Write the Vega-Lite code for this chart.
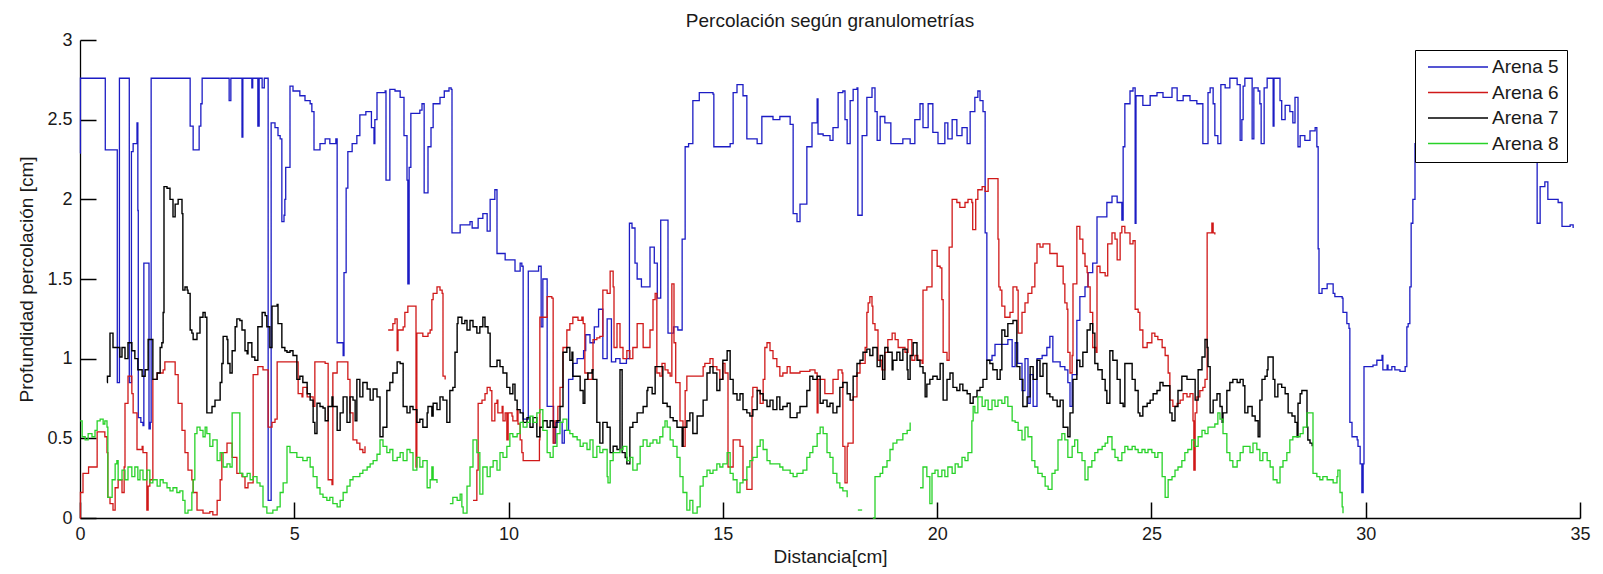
{
"$schema": "https://vega.github.io/schema/vega-lite/v6.json",
"width": 1500, "height": 478,
"autosize": {"type": "none"},
"padding": {"left": 80, "top": 40, "right": 23, "bottom": 56},
"background": "white",
"config": {
  "view": {"stroke": null},
  "font": "Liberation Sans",
  "axis": {"grid": false, "domainColor": "#000", "tickColor": "#000", "domainWidth": 1.3, "tickWidth": 1.5, "labelFontSize": 18, "labelColor": "#1a1a1a", "titleFontSize": 19, "titleFontWeight": "normal", "titleColor": "#1a1a1a", "labelFont": "Liberation Sans", "titleFont": "Liberation Sans"}
},
"title": {"text": "Percolación según granulometrías", "fontSize": 19, "fontWeight": "normal", "color": "#1a1a1a", "anchor": "middle", "offset": 0, "font": "Liberation Sans"},
"resolve": {"axis": {"x": "independent", "y": "independent"}},
"datasets": {
"arena5": [
{"x":0,"y":2.29},{"x":0.01,"y":2.76},{"x":0.58,"y":2.76},{"x":0.59,"y":2.31},{"x":0.86,"y":2.31},{"x":0.87,"y":0.85},{"x":0.91,"y":0.85},{"x":0.92,"y":2.76},{"x":1.14,"y":2.76},{"x":1.15,"y":0.85},{"x":1.19,"y":0.85},{"x":1.2,"y":2.3},{"x":1.24,"y":2.35},{"x":1.33,"y":2.48},{"x":1.35,"y":1.93},{"x":1.36,"y":0.63},{"x":1.42,"y":0.6},{"x":1.47,"y":0.58},{"x":1.49,"y":1.6},{"x":1.59,"y":1.6},{"x":1.61,"y":0.56},{"x":1.64,"y":0.6},{"x":1.66,"y":2.76},{"x":2.54,"y":2.76},{"x":2.57,"y":2.46},{"x":2.64,"y":2.31},{"x":2.75,"y":2.31},{"x":2.78,"y":2.46},{"x":2.82,"y":2.6},{"x":2.85,"y":2.76},{"x":3.45,"y":2.76},{"x":3.48,"y":2.62},{"x":3.5,"y":2.62},{"x":3.52,"y":2.76},{"x":3.77,"y":2.76},{"x":3.78,"y":2.39},{"x":3.8,"y":2.76},{"x":4.0,"y":2.76},{"x":4.01,"y":2.7},{"x":4.03,"y":2.76},{"x":4.14,"y":2.76},{"x":4.15,"y":2.46},{"x":4.18,"y":2.76},{"x":4.25,"y":2.7},{"x":4.3,"y":2.76},{"x":4.38,"y":2.76},{"x":4.39,"y":0.11},{"x":4.44,"y":0.11},{"x":4.46,"y":2.48},{"x":4.55,"y":2.45},{"x":4.62,"y":2.4},{"x":4.67,"y":2.38},{"x":4.71,"y":1.86},{"x":4.76,"y":1.9},{"x":4.78,"y":2.0},{"x":4.8,"y":2.2},{"x":4.9,"y":2.71},{"x":4.97,"y":2.68},{"x":5.13,"y":2.65},{"x":5.25,"y":2.62},{"x":5.37,"y":2.6},{"x":5.41,"y":2.55},{"x":5.46,"y":2.31},{"x":5.6,"y":2.35},{"x":5.72,"y":2.38},{"x":5.83,"y":2.35},{"x":5.97,"y":2.38},{"x":6.0,"y":1.1},{"x":6.14,"y":1.02},{"x":6.16,"y":1.54},{"x":6.21,"y":2.07},{"x":6.25,"y":2.3},{"x":6.35,"y":2.35},{"x":6.46,"y":2.4},{"x":6.53,"y":2.53},{"x":6.67,"y":2.55},{"x":6.8,"y":2.45},{"x":6.86,"y":2.35},{"x":6.88,"y":2.5},{"x":6.93,"y":2.67},{"x":7.12,"y":2.68},{"x":7.14,"y":2.12},{"x":7.21,"y":2.12},{"x":7.23,"y":2.69},{"x":7.35,"y":2.68},{"x":7.47,"y":2.64},{"x":7.56,"y":2.4},{"x":7.63,"y":2.12},{"x":7.65,"y":1.47},{"x":7.68,"y":2.2},{"x":7.72,"y":2.54},{"x":7.93,"y":2.56},{"x":7.98,"y":2.6},{"x":8.03,"y":2.04},{"x":8.1,"y":2.04},{"x":8.12,"y":2.33},{"x":8.19,"y":2.45},{"x":8.24,"y":2.6},{"x":8.4,"y":2.64},{"x":8.5,"y":2.68},{"x":8.61,"y":2.7},{"x":8.66,"y":2.69},{"x":8.68,"y":1.79},{"x":8.87,"y":1.84},{"x":9.1,"y":1.86},{"x":9.15,"y":1.82},{"x":9.29,"y":1.88},{"x":9.4,"y":1.91},{"x":9.5,"y":1.8},{"x":9.57,"y":2.0},{"x":9.68,"y":2.06},{"x":9.73,"y":1.66},{"x":9.92,"y":1.62},{"x":10.15,"y":1.55},{"x":10.27,"y":1.6},{"x":10.31,"y":1.58},{"x":10.34,"y":0.62},{"x":10.44,"y":0.62},{"x":10.46,"y":1.55},{"x":10.7,"y":1.58},{"x":10.76,"y":1.2},{"x":10.8,"y":1.5},{"x":10.85,"y":1.5},{"x":10.9,"y":0.7},{"x":11.05,"y":0.47},{"x":11.1,"y":0.6},{"x":11.2,"y":0.6},{"x":11.25,"y":0.47},{"x":11.3,"y":0.55},{"x":11.4,"y":0.87},{"x":11.5,"y":0.97},{"x":11.6,"y":1.0},{"x":11.75,"y":1.05},{"x":11.8,"y":1.15},{"x":11.9,"y":1.1},{"x":12.0,"y":1.2},{"x":12.1,"y":1.31},{"x":12.15,"y":1.31},{"x":12.2,"y":1.0},{"x":12.3,"y":1.25},{"x":12.4,"y":0.98},{"x":12.5,"y":1.0},{"x":12.6,"y":0.97},{"x":12.75,"y":1.0},{"x":12.8,"y":1.0},{"x":12.82,"y":1.85},{"x":12.88,"y":1.82},{"x":12.95,"y":1.6},{"x":13.0,"y":1.5},{"x":13.1,"y":1.45},{"x":13.25,"y":1.45},{"x":13.3,"y":1.7},{"x":13.4,"y":1.6},{"x":13.47,"y":1.38},{"x":13.55,"y":1.87},{"x":13.7,"y":1.87},{"x":13.72,"y":1.16},{"x":13.85,"y":1.2},{"x":13.95,"y":1.18},{"x":14.05,"y":1.75},{"x":14.12,"y":2.33},{"x":14.2,"y":2.35},{"x":14.3,"y":2.62},{"x":14.45,"y":2.67},{"x":14.77,"y":2.66},{"x":14.79,"y":2.33},{"x":15.17,"y":2.35},{"x":15.24,"y":2.67},{"x":15.33,"y":2.72},{"x":15.47,"y":2.65},{"x":15.56,"y":2.38},{"x":15.8,"y":2.35},{"x":15.91,"y":2.52},{"x":16.17,"y":2.5},{"x":16.33,"y":2.52},{"x":16.57,"y":2.47},{"x":16.64,"y":1.91},{"x":16.73,"y":1.86},{"x":16.8,"y":1.97},{"x":16.92,"y":1.97},{"x":16.96,"y":2.33},{"x":17.08,"y":2.48},{"x":17.2,"y":2.63},{"x":17.22,"y":2.41},{"x":17.34,"y":2.4},{"x":17.5,"y":2.37},{"x":17.57,"y":2.45},{"x":17.69,"y":2.67},{"x":17.8,"y":2.68},{"x":17.85,"y":2.5},{"x":17.9,"y":2.35},{"x":17.97,"y":2.62},{"x":18.04,"y":2.69},{"x":18.13,"y":2.7},{"x":18.15,"y":1.9},{"x":18.25,"y":2.4},{"x":18.36,"y":2.64},{"x":18.48,"y":2.7},{"x":18.55,"y":2.55},{"x":18.6,"y":2.37},{"x":18.67,"y":2.52},{"x":18.78,"y":2.48},{"x":18.92,"y":2.35},{"x":19.06,"y":2.35},{"x":19.2,"y":2.38},{"x":19.37,"y":2.35},{"x":19.48,"y":2.5},{"x":19.6,"y":2.6},{"x":19.67,"y":2.45},{"x":19.79,"y":2.6},{"x":19.9,"y":2.42},{"x":20.02,"y":2.35},{"x":20.18,"y":2.48},{"x":20.25,"y":2.38},{"x":20.35,"y":2.5},{"x":20.46,"y":2.4},{"x":20.58,"y":2.45},{"x":20.7,"y":2.35},{"x":20.77,"y":2.55},{"x":20.88,"y":2.64},{"x":20.95,"y":2.68},{"x":21.0,"y":2.62},{"x":21.07,"y":2.55},{"x":21.12,"y":1.79},{"x":21.16,"y":0.99},{"x":21.28,"y":1.02},{"x":21.35,"y":1.09},{"x":21.58,"y":1.09},{"x":21.65,"y":1.12},{"x":21.75,"y":0.95},{"x":21.82,"y":1.1},{"x":21.88,"y":0.97},{"x":21.98,"y":0.8},{"x":22.05,"y":1.0},{"x":22.12,"y":0.72},{"x":22.17,"y":0.9},{"x":22.24,"y":0.7},{"x":22.33,"y":1.0},{"x":22.45,"y":1.02},{"x":22.56,"y":1.07},{"x":22.63,"y":1.14},{"x":22.7,"y":0.98},{"x":22.87,"y":0.95},{"x":22.98,"y":0.93},{"x":23.05,"y":0.85},{"x":23.1,"y":0.7},{"x":23.15,"y":0.9},{"x":23.26,"y":1.24},{"x":23.33,"y":1.39},{"x":23.45,"y":1.45},{"x":23.52,"y":1.54},{"x":23.63,"y":1.6},{"x":23.73,"y":1.89},{"x":23.96,"y":1.98},{"x":24.08,"y":2.02},{"x":24.2,"y":1.98},{"x":24.31,"y":1.87},{"x":24.34,"y":2.33},{"x":24.38,"y":2.6},{"x":24.5,"y":2.68},{"x":24.57,"y":2.7},{"x":24.62,"y":1.85},{"x":24.64,"y":2.65},{"x":24.8,"y":2.59},{"x":24.97,"y":2.65},{"x":25.13,"y":2.67},{"x":25.27,"y":2.64},{"x":25.48,"y":2.7},{"x":25.6,"y":2.62},{"x":25.74,"y":2.65},{"x":25.9,"y":2.62},{"x":26.06,"y":2.6},{"x":26.18,"y":2.6},{"x":26.2,"y":2.35},{"x":26.3,"y":2.35},{"x":26.32,"y":2.67},{"x":26.37,"y":2.7},{"x":26.44,"y":2.6},{"x":26.48,"y":2.4},{"x":26.55,"y":2.35},{"x":26.62,"y":2.72},{"x":26.72,"y":2.7},{"x":26.83,"y":2.76},{"x":27.0,"y":2.72},{"x":27.07,"y":2.37},{"x":27.11,"y":2.5},{"x":27.14,"y":2.71},{"x":27.18,"y":2.76},{"x":27.3,"y":2.76},{"x":27.35,"y":2.38},{"x":27.39,"y":2.7},{"x":27.49,"y":2.68},{"x":27.53,"y":2.6},{"x":27.56,"y":2.35},{"x":27.63,"y":2.7},{"x":27.7,"y":2.76},{"x":27.81,"y":2.76},{"x":27.84,"y":2.46},{"x":27.86,"y":2.76},{"x":27.98,"y":2.76},{"x":28.0,"y":2.62},{"x":28.04,"y":2.5},{"x":28.12,"y":2.59},{"x":28.23,"y":2.55},{"x":28.3,"y":2.48},{"x":28.35,"y":2.64},{"x":28.4,"y":2.64},{"x":28.42,"y":2.33},{"x":28.47,"y":2.4},{"x":28.58,"y":2.37},{"x":28.7,"y":2.43},{"x":28.82,"y":2.45},{"x":28.86,"y":2.33},{"x":28.89,"y":1.69},{"x":28.91,"y":1.41},{"x":28.98,"y":1.44},{"x":29.1,"y":1.47},{"x":29.24,"y":1.41},{"x":29.28,"y":1.39},{"x":29.45,"y":1.38},{"x":29.47,"y":1.29},{"x":29.56,"y":1.22},{"x":29.61,"y":1.19},{"x":29.63,"y":0.6},{"x":29.68,"y":0.51},{"x":29.8,"y":0.49},{"x":29.82,"y":0.45},{"x":29.87,"y":0.34},{"x":29.91,"y":0.16},{"x":29.94,"y":0.34},{"x":29.96,"y":0.95},{"x":30.03,"y":0.95},{"x":30.17,"y":0.96},{"x":30.26,"y":0.99},{"x":30.38,"y":1.02},{"x":30.4,"y":0.93},{"x":30.5,"y":0.96},{"x":30.52,"y":0.93},{"x":30.61,"y":0.95},{"x":30.68,"y":0.93},{"x":30.8,"y":0.92},{"x":30.92,"y":0.95},{"x":30.96,"y":1.2},{"x":30.99,"y":1.22},{"x":31.03,"y":1.45},{"x":31.06,"y":1.85},{"x":31.1,"y":2.0},{"x":31.15,"y":2.35},{"x":31.2,"y":2.6},{"x":32.0,"y":2.7},{"x":33.0,"y":2.6},{"x":33.9,"y":2.5},{"x":33.97,"y":2.3},{"x":34.0,"y":1.85},{"x":34.04,"y":1.85},{"x":34.07,"y":2.08},{"x":34.18,"y":2.11},{"x":34.25,"y":2.0},{"x":34.37,"y":2.0},{"x":34.49,"y":1.98},{"x":34.55,"y":1.98},{"x":34.58,"y":1.83},{"x":34.77,"y":1.84},{"x":34.84,"y":1.82}
],
"arena6": [
{"x":0,"y":0,"s":1},{"x":0.01,"y":0.16,"s":1},{"x":0.07,"y":0.28,"s":1},{"x":0.19,"y":0.28,"s":1},{"x":0.2,"y":0.32,"s":1},{"x":0.4,"y":0.54,"s":1},{"x":0.47,"y":0.54,"s":1},{"x":0.58,"y":0.51,"s":1},{"x":0.63,"y":0.41,"s":1},{"x":0.65,"y":0.13,"s":1},{"x":0.7,"y":0.09,"s":1},{"x":0.77,"y":0.05,"s":1},{"x":0.82,"y":0.19,"s":1},{"x":0.89,"y":0.24,"s":1},{"x":0.98,"y":0.16,"s":1},{"x":1.03,"y":0.32,"s":1},{"x":1.05,"y":0.72,"s":1},{"x":1.12,"y":0.89,"s":1},{"x":1.17,"y":0.89,"s":1},{"x":1.21,"y":0.78,"s":1},{"x":1.24,"y":0.66,"s":1},{"x":1.33,"y":0.43,"s":1},{"x":1.4,"y":0.43,"s":1},{"x":1.45,"y":0.45,"s":1},{"x":1.47,"y":0.41,"s":1},{"x":1.56,"y":0.05,"s":1},{"x":1.59,"y":0.2,"s":1},{"x":1.63,"y":0.24,"s":1},{"x":1.68,"y":0.24,"s":1},{"x":1.7,"y":0.87,"s":1},{"x":1.8,"y":0.91,"s":1},{"x":1.94,"y":0.93,"s":1},{"x":1.98,"y":0.98,"s":1},{"x":2.17,"y":0.98,"s":1},{"x":2.22,"y":0.9,"s":1},{"x":2.29,"y":0.72,"s":1},{"x":2.38,"y":0.55,"s":1},{"x":2.45,"y":0.41,"s":1},{"x":2.52,"y":0.3,"s":1},{"x":2.61,"y":0.24,"s":1},{"x":2.64,"y":0.16,"s":1},{"x":2.73,"y":0.05,"s":1},{"x":2.87,"y":0.03,"s":1},{"x":3.03,"y":0.04,"s":1},{"x":3.1,"y":0.02,"s":1},{"x":3.2,"y":0.11,"s":1},{"x":3.27,"y":0.24,"s":1},{"x":3.31,"y":0.41,"s":1},{"x":3.43,"y":0.47,"s":1},{"x":3.55,"y":0.38,"s":1},{"x":3.66,"y":0.28,"s":1},{"x":3.78,"y":0.26,"s":1},{"x":3.85,"y":0.19,"s":1},{"x":3.92,"y":0.22,"s":1},{"x":4.04,"y":0.9,"s":1},{"x":4.15,"y":0.95,"s":1},{"x":4.27,"y":0.93,"s":1},{"x":4.36,"y":0.93,"s":1},{"x":4.39,"y":0.57,"s":1},{"x":4.48,"y":0.6,"s":1},{"x":4.55,"y":0.62,"s":1},{"x":4.6,"y":0.98,"s":1},{"x":5.02,"y":0.98,"s":1},{"x":5.09,"y":0.78,"s":1},{"x":5.18,"y":0.76,"s":1},{"x":5.2,"y":0.82,"s":1},{"x":5.3,"y":0.76,"s":1},{"x":5.44,"y":0.7,"s":1},{"x":5.48,"y":0.98,"s":1},{"x":5.72,"y":0.97,"s":1},{"x":5.79,"y":0.24,"s":1},{"x":5.88,"y":0.21,"s":1},{"x":5.9,"y":0.91,"s":1},{"x":6.0,"y":0.98,"s":1},{"x":6.23,"y":0.98,"s":1},{"x":6.25,"y":0.87,"s":1},{"x":6.3,"y":0.66,"s":1},{"x":6.37,"y":0.49,"s":1},{"x":6.46,"y":0.47,"s":1},{"x":6.53,"y":0.43,"s":1},{"x":6.6,"y":0.41,"s":1},{"x":6.65,"y":0.45,"s":1},
{"x":7.19,"y":1.18,"s":2},{"x":7.3,"y":1.22,"s":2},{"x":7.35,"y":1.25,"s":2},{"x":7.4,"y":1.05,"s":2},{"x":7.42,"y":1.18,"s":2},{"x":7.54,"y":1.2,"s":2},{"x":7.58,"y":1.29,"s":2},{"x":7.65,"y":1.33,"s":2},{"x":7.82,"y":1.33,"s":2},{"x":7.84,"y":0.32,"s":2},{"x":7.86,"y":1.16,"s":2},{"x":8.0,"y":1.14,"s":2},{"x":8.12,"y":1.16,"s":2},{"x":8.17,"y":1.18,"s":2},{"x":8.21,"y":1.37,"s":2},{"x":8.24,"y":1.41,"s":2},{"x":8.33,"y":1.45,"s":2},{"x":8.4,"y":1.43,"s":2},{"x":8.45,"y":1.41,"s":2},{"x":8.47,"y":0.89,"s":2},{"x":8.52,"y":0.87,"s":2},
{"x":9.17,"y":0.11,"s":3},{"x":9.26,"y":0.3,"s":3},{"x":9.29,"y":0.72,"s":3},{"x":9.38,"y":0.74,"s":3},{"x":9.45,"y":0.78,"s":3},{"x":9.5,"y":0.82,"s":3},{"x":9.57,"y":0.8,"s":3},{"x":9.61,"y":0.61,"s":3},{"x":9.68,"y":0.72,"s":3},{"x":9.73,"y":0.74,"s":3},{"x":9.75,"y":0.66,"s":3},{"x":9.85,"y":0.7,"s":3},{"x":9.87,"y":0.61,"s":3},{"x":9.92,"y":0.66,"s":3},{"x":9.96,"y":0.49,"s":3},{"x":9.99,"y":0.66,"s":3},{"x":10.08,"y":0.64,"s":3},{"x":10.1,"y":0.61,"s":3},{"x":10.2,"y":0.68,"s":3},{"x":10.22,"y":0.59,"s":3},{"x":10.27,"y":0.49,"s":3},{"x":10.31,"y":0.41,"s":3},{"x":10.34,"y":0.36,"s":3},{"x":10.72,"y":0.49,"s":3},{"x":10.73,"y":1.26,"s":3},{"x":10.8,"y":1.26,"s":3},{"x":10.9,"y":1.39,"s":3},{"x":11.01,"y":1.38,"s":3},{"x":11.04,"y":0.47,"s":3},{"x":11.08,"y":0.61,"s":3},{"x":11.15,"y":0.7,"s":3},{"x":11.2,"y":0.82,"s":3},{"x":11.27,"y":1.07,"s":3},{"x":11.36,"y":1.18,"s":3},{"x":11.43,"y":1.22,"s":3},{"x":11.5,"y":1.26,"s":3},{"x":11.62,"y":1.24,"s":3},{"x":11.71,"y":1.26,"s":3},{"x":11.74,"y":1.22,"s":3},{"x":11.78,"y":0.91,"s":3},{"x":11.85,"y":0.87,"s":3},{"x":11.95,"y":0.93,"s":3},{"x":11.97,"y":1.12,"s":3},{"x":12.06,"y":1.13,"s":3},{"x":12.13,"y":1.14,"s":3},{"x":12.2,"y":1.43,"s":3},{"x":12.3,"y":1.41,"s":3},{"x":12.37,"y":1.55,"s":3},{"x":12.44,"y":1.45,"s":3},{"x":12.46,"y":1.07,"s":3},{"x":12.53,"y":1.22,"s":3},{"x":12.6,"y":1.07,"s":3},{"x":12.67,"y":1.0,"s":3},{"x":12.76,"y":1.05,"s":3},{"x":12.83,"y":1.0,"s":3},{"x":12.9,"y":1.07,"s":3},{"x":13.0,"y":1.22,"s":3},{"x":13.07,"y":1.22,"s":3},{"x":13.14,"y":1.07,"s":3},{"x":13.23,"y":1.07,"s":3},{"x":13.3,"y":1.18,"s":3},{"x":13.37,"y":1.37,"s":3},{"x":13.42,"y":1.41,"s":3},{"x":13.46,"y":0.91,"s":3},{"x":13.53,"y":0.89,"s":3},{"x":13.58,"y":0.97,"s":3},{"x":13.65,"y":0.93,"s":3},{"x":13.72,"y":0.91,"s":3},{"x":13.77,"y":0.89,"s":3},{"x":13.81,"y":1.47,"s":3},{"x":13.86,"y":1.1,"s":3},{"x":13.9,"y":0.85,"s":3},{"x":14.0,"y":0.61,"s":3},{"x":14.07,"y":0.45,"s":3},{"x":14.12,"y":0.8,"s":3},{"x":14.16,"y":0.89,"s":3},{"x":14.54,"y":0.95,"s":3},{"x":14.58,"y":0.97,"s":3},{"x":14.7,"y":1.0,"s":3},{"x":14.77,"y":0.95,"s":3},{"x":14.86,"y":0.93,"s":3},{"x":14.93,"y":0.87,"s":3},{"x":15.0,"y":0.97,"s":3},{"x":15.05,"y":0.91,"s":3},{"x":15.12,"y":0.32,"s":3},{"x":15.17,"y":0.32,"s":3},{"x":15.24,"y":0.49,"s":3},{"x":15.33,"y":0.49,"s":3},{"x":15.4,"y":0.45,"s":3},{"x":15.47,"y":0.24,"s":3},{"x":15.56,"y":0.18,"s":3},{"x":15.63,"y":0.18,"s":3},{"x":15.68,"y":0.76,"s":3},{"x":15.7,"y":0.82,"s":3},{"x":15.8,"y":0.8,"s":3},{"x":15.87,"y":0.72,"s":3},{"x":15.94,"y":0.87,"s":3},{"x":15.98,"y":1.07,"s":3},{"x":16.03,"y":1.1,"s":3},{"x":16.1,"y":1.05,"s":3},{"x":16.17,"y":1.0,"s":3},{"x":16.26,"y":0.95,"s":3},{"x":16.33,"y":0.89,"s":3},{"x":16.4,"y":0.91,"s":3},{"x":16.5,"y":0.95,"s":3},{"x":16.57,"y":0.91,"s":3},{"x":16.8,"y":0.92,"s":3},{"x":17.03,"y":0.93,"s":3},{"x":17.15,"y":0.91,"s":3},{"x":17.2,"y":0.66,"s":3},{"x":17.22,"y":0.87,"s":3},{"x":17.38,"y":0.78,"s":3},{"x":17.57,"y":0.87,"s":3},{"x":17.69,"y":0.93,"s":3},{"x":17.78,"y":0.91,"s":3},{"x":17.8,"y":0.45,"s":3},{"x":17.85,"y":0.22,"s":3},{"x":17.9,"y":0.45,"s":3},{"x":17.92,"y":0.47,"s":3},{"x":18.01,"y":0.47,"s":3},{"x":18.04,"y":0.76,"s":3},{"x":18.13,"y":0.91,"s":3},{"x":18.2,"y":0.97,"s":3},{"x":18.32,"y":1.07,"s":3},{"x":18.36,"y":1.29,"s":3},{"x":18.39,"y":1.35,"s":3},{"x":18.43,"y":1.39,"s":3},{"x":18.48,"y":1.33,"s":3},{"x":18.5,"y":1.22,"s":3},{"x":18.55,"y":1.18,"s":3},{"x":18.62,"y":0.99,"s":3},{"x":18.71,"y":0.93,"s":3},{"x":18.78,"y":1.04,"s":3},{"x":18.85,"y":1.12,"s":3},{"x":18.95,"y":1.16,"s":3},{"x":19.02,"y":1.12,"s":3},{"x":19.09,"y":1.07,"s":3},{"x":19.18,"y":1.07,"s":3},{"x":19.25,"y":1.04,"s":3},{"x":19.32,"y":1.12,"s":3},{"x":19.41,"y":0.99,"s":3},{"x":19.48,"y":1.02,"s":3},{"x":19.55,"y":0.99,"s":3},{"x":19.65,"y":0.97,"s":3},{"x":19.67,"y":1.43,"s":3},{"x":19.76,"y":1.45,"s":3},{"x":19.88,"y":1.68,"s":3},{"x":19.9,"y":1.68,"s":3},{"x":20.0,"y":1.58,"s":3},{"x":20.07,"y":1.57,"s":3},{"x":20.11,"y":1.37,"s":3},{"x":20.14,"y":1.04,"s":3},{"x":20.23,"y":0.99,"s":3},{"x":20.28,"y":1.7,"s":3},{"x":20.35,"y":2.0,"s":3},{"x":20.46,"y":1.98,"s":3},{"x":20.53,"y":1.95,"s":3},{"x":20.65,"y":1.98,"s":3},{"x":20.72,"y":2.0,"s":3},{"x":20.81,"y":1.98,"s":3},{"x":20.83,"y":1.81,"s":3},{"x":20.88,"y":1.81,"s":3},{"x":20.9,"y":2.0,"s":3},{"x":20.95,"y":2.06,"s":3},{"x":21.05,"y":2.08,"s":3},{"x":21.12,"y":2.05,"s":3},{"x":21.19,"y":2.13,"s":3},{"x":21.4,"y":2.13,"s":3},{"x":21.42,"y":1.75,"s":3},{"x":21.44,"y":1.45,"s":3},{"x":21.47,"y":1.43,"s":3},{"x":21.51,"y":1.33,"s":3},{"x":21.58,"y":1.26,"s":3},{"x":21.7,"y":1.29,"s":3},{"x":21.77,"y":1.45,"s":3},{"x":21.86,"y":1.43,"s":3},{"x":21.89,"y":1.16,"s":3},{"x":21.98,"y":1.29,"s":3},{"x":22.05,"y":1.35,"s":3},{"x":22.12,"y":1.41,"s":3},{"x":22.21,"y":1.45,"s":3},{"x":22.28,"y":1.6,"s":3},{"x":22.33,"y":1.72,"s":3},{"x":22.4,"y":1.7,"s":3},{"x":22.47,"y":1.72,"s":3},{"x":22.63,"y":1.66,"s":3},{"x":22.7,"y":1.66,"s":3},{"x":22.8,"y":1.58,"s":3},{"x":22.91,"y":1.58,"s":3},{"x":22.94,"y":1.47,"s":3},{"x":22.98,"y":1.35,"s":3},{"x":23.03,"y":1.31,"s":3},{"x":23.05,"y":1.04,"s":3},{"x":23.1,"y":0.91,"s":3},{"x":23.15,"y":1.02,"s":3},{"x":23.17,"y":1.47,"s":3},{"x":23.26,"y":1.83,"s":3},{"x":23.33,"y":1.75,"s":3},{"x":23.4,"y":1.66,"s":3},{"x":23.45,"y":1.58,"s":3},{"x":23.5,"y":1.54,"s":3},{"x":23.52,"y":1.45,"s":3},{"x":23.57,"y":1.29,"s":3},{"x":23.63,"y":1.07,"s":3},{"x":23.71,"y":1.04,"s":3},{"x":23.73,"y":1.58,"s":3},{"x":23.8,"y":1.54,"s":3},{"x":23.92,"y":1.52,"s":3},{"x":23.98,"y":1.72,"s":3},{"x":24.08,"y":1.79,"s":3},{"x":24.15,"y":1.75,"s":3},{"x":24.2,"y":1.62,"s":3},{"x":24.27,"y":1.79,"s":3},{"x":24.31,"y":1.83,"s":3},{"x":24.38,"y":1.79,"s":3},{"x":24.5,"y":1.72,"s":3},{"x":24.57,"y":1.74,"s":3},{"x":24.62,"y":1.31,"s":3},{"x":24.69,"y":1.29,"s":3},{"x":24.73,"y":1.18,"s":3},{"x":24.8,"y":1.07,"s":3},{"x":24.9,"y":1.1,"s":3},{"x":25.01,"y":1.16,"s":3},{"x":25.08,"y":1.14,"s":3},{"x":25.15,"y":1.12,"s":3},{"x":25.25,"y":1.07,"s":3},{"x":25.32,"y":1.02,"s":3},{"x":25.39,"y":0.91,"s":3},{"x":25.43,"y":0.74,"s":3},{"x":25.5,"y":0.7,"s":3},{"x":25.6,"y":0.72,"s":3},{"x":25.67,"y":0.74,"s":3},{"x":25.74,"y":0.78,"s":3},{"x":25.83,"y":0.76,"s":3},{"x":25.9,"y":0.78,"s":3},{"x":25.97,"y":0.61,"s":3},{"x":25.99,"y":0.3,"s":3},{"x":26.02,"y":0.66,"s":3},{"x":26.06,"y":0.76,"s":3},{"x":26.13,"y":0.8,"s":3},{"x":26.2,"y":0.82,"s":3},{"x":26.25,"y":0.87,"s":3},{"x":26.3,"y":1.79,"s":3},{"x":26.41,"y":1.85,"s":3},{"x":26.44,"y":1.79,"s":3},{"x":26.48,"y":1.78,"s":3}
],
"arena7": [
{"x":0.63,"y":0.85},{"x":0.64,"y":0.89},{"x":0.7,"y":1.16},{"x":0.77,"y":1.07},{"x":0.86,"y":1.07},{"x":0.93,"y":1.01},{"x":0.98,"y":1.07},{"x":1.05,"y":1.0},{"x":1.12,"y":1.1},{"x":1.21,"y":1.05},{"x":1.28,"y":1.0},{"x":1.35,"y":0.93},{"x":1.45,"y":0.89},{"x":1.52,"y":0.93},{"x":1.59,"y":1.12},{"x":1.68,"y":1.12},{"x":1.7,"y":0.87},{"x":1.8,"y":0.91},{"x":1.87,"y":1.07},{"x":1.91,"y":1.1},{"x":1.94,"y":1.29},{"x":1.96,"y":2.08},{"x":2.03,"y":2.07},{"x":2.1,"y":2.0},{"x":2.17,"y":1.89},{"x":2.22,"y":1.97},{"x":2.29,"y":2.0},{"x":2.38,"y":1.91},{"x":2.4,"y":1.43},{"x":2.45,"y":1.45},{"x":2.5,"y":1.43},{"x":2.52,"y":1.41},{"x":2.57,"y":1.18},{"x":2.61,"y":1.16},{"x":2.64,"y":1.12},{"x":2.73,"y":1.16},{"x":2.8,"y":1.26},{"x":2.87,"y":1.29},{"x":2.92,"y":1.26},{"x":2.96,"y":0.66},{"x":3.03,"y":0.66},{"x":3.08,"y":0.7},{"x":3.15,"y":0.74},{"x":3.22,"y":0.74},{"x":3.27,"y":0.85},{"x":3.31,"y":0.97},{"x":3.34,"y":1.14},{"x":3.43,"y":1.12},{"x":3.45,"y":0.97},{"x":3.5,"y":0.91},{"x":3.55,"y":1.05},{"x":3.62,"y":1.2},{"x":3.66,"y":1.25},{"x":3.73,"y":1.24},{"x":3.78,"y":1.18},{"x":3.85,"y":1.05},{"x":3.9,"y":1.03},{"x":3.92,"y":1.1},{"x":4.01,"y":1.01},{"x":4.08,"y":0.99},{"x":4.15,"y":1.2},{"x":4.25,"y":1.29},{"x":4.32,"y":1.27},{"x":4.36,"y":1.2},{"x":4.43,"y":1.07},{"x":4.48,"y":1.33},{"x":4.6,"y":1.34},{"x":4.62,"y":1.22},{"x":4.71,"y":1.07},{"x":4.78,"y":1.05},{"x":4.83,"y":1.04},{"x":4.9,"y":1.05},{"x":4.97,"y":1.02},{"x":5.06,"y":0.87},{"x":5.13,"y":0.89},{"x":5.2,"y":0.85},{"x":5.3,"y":0.78},{"x":5.37,"y":0.74},{"x":5.44,"y":0.6},{"x":5.48,"y":0.53},{"x":5.53,"y":0.72},{"x":5.6,"y":0.7},{"x":5.67,"y":0.69},{"x":5.72,"y":0.61},{"x":5.79,"y":0.7},{"x":5.88,"y":0.76},{"x":5.9,"y":0.7},{"x":6.0,"y":0.55},{"x":6.07,"y":0.66},{"x":6.14,"y":0.76},{"x":6.23,"y":0.6},{"x":6.3,"y":0.76},{"x":6.37,"y":0.74},{"x":6.42,"y":0.61},{"x":6.46,"y":0.87},{"x":6.53,"y":0.76},{"x":6.6,"y":0.85},{"x":6.7,"y":0.81},{"x":6.77,"y":0.74},{"x":6.84,"y":0.81},{"x":6.93,"y":0.76},{"x":7.0,"y":0.51},{"x":7.07,"y":0.57},{"x":7.16,"y":0.8},{"x":7.23,"y":0.85},{"x":7.3,"y":0.91},{"x":7.4,"y":0.98},{"x":7.47,"y":0.97},{"x":7.54,"y":0.7},{"x":7.63,"y":0.66},{"x":7.7,"y":0.7},{"x":7.77,"y":0.68},{"x":7.86,"y":0.6},{"x":7.93,"y":0.62},{"x":8.0,"y":0.57},{"x":8.1,"y":0.66},{"x":8.12,"y":0.7},{"x":8.21,"y":0.64},{"x":8.24,"y":0.72},{"x":8.33,"y":0.68},{"x":8.4,"y":0.76},{"x":8.47,"y":0.74},{"x":8.56,"y":0.6},{"x":8.63,"y":0.8},{"x":8.7,"y":0.82},{"x":8.75,"y":1.04},{"x":8.8,"y":1.22},{"x":8.82,"y":1.26},{"x":8.91,"y":1.22},{"x":8.98,"y":1.24},{"x":9.03,"y":1.18},{"x":9.1,"y":1.24},{"x":9.17,"y":1.2},{"x":9.26,"y":1.16},{"x":9.33,"y":1.2},{"x":9.4,"y":1.26},{"x":9.45,"y":1.2},{"x":9.52,"y":1.16},{"x":9.57,"y":0.95},{"x":9.64,"y":0.95},{"x":9.73,"y":0.99},{"x":9.8,"y":0.95},{"x":9.87,"y":0.91},{"x":9.96,"y":0.82},{"x":10.03,"y":0.78},{"x":10.1,"y":0.84},{"x":10.15,"y":0.74},{"x":10.2,"y":0.68},{"x":10.27,"y":0.66},{"x":10.34,"y":0.6},{"x":10.43,"y":0.63},{"x":10.5,"y":0.57},{"x":10.57,"y":0.63},{"x":10.66,"y":0.51},{"x":10.73,"y":0.57},{"x":10.8,"y":0.61},{"x":10.9,"y":0.57},{"x":10.97,"y":0.61},{"x":11.04,"y":0.57},{"x":11.13,"y":0.61},{"x":11.2,"y":0.7},{"x":11.27,"y":1.04},{"x":11.36,"y":1.07},{"x":11.43,"y":0.99},{"x":11.48,"y":1.04},{"x":11.5,"y":0.89},{"x":11.6,"y":0.89},{"x":11.67,"y":0.8},{"x":11.74,"y":0.72},{"x":11.78,"y":0.87},{"x":11.85,"y":0.91},{"x":11.95,"y":0.93},{"x":11.97,"y":0.87},{"x":12.06,"y":0.6},{"x":12.13,"y":0.47},{"x":12.2,"y":0.6},{"x":12.3,"y":0.57},{"x":12.37,"y":0.41},{"x":12.44,"y":0.45},{"x":12.53,"y":0.43},{"x":12.6,"y":0.93},{"x":12.65,"y":0.41},{"x":12.72,"y":0.38},{"x":12.76,"y":0.34},{"x":12.83,"y":0.57},{"x":12.9,"y":0.6},{"x":13.0,"y":0.66},{"x":13.07,"y":0.66},{"x":13.14,"y":0.7},{"x":13.23,"y":0.8},{"x":13.25,"y":0.82},{"x":13.35,"y":0.78},{"x":13.42,"y":0.95},{"x":13.58,"y":0.95},{"x":13.6,"y":0.72},{"x":13.7,"y":0.7},{"x":13.77,"y":0.63},{"x":13.84,"y":0.61},{"x":13.93,"y":0.57},{"x":14.0,"y":0.57},{"x":14.05,"y":0.45},{"x":14.07,"y":0.57},{"x":14.16,"y":0.61},{"x":14.23,"y":0.66},{"x":14.3,"y":0.53},{"x":14.4,"y":0.64},{"x":14.47,"y":0.64},{"x":14.54,"y":0.74},{"x":14.63,"y":0.91},{"x":14.7,"y":0.95},{"x":14.77,"y":0.91},{"x":14.86,"y":0.8},{"x":14.93,"y":0.87},{"x":15.0,"y":0.99},{"x":15.1,"y":1.05},{"x":15.17,"y":0.87},{"x":15.24,"y":0.78},{"x":15.33,"y":0.74},{"x":15.4,"y":0.78},{"x":15.47,"y":0.68},{"x":15.56,"y":0.66},{"x":15.63,"y":0.64},{"x":15.7,"y":0.68},{"x":15.8,"y":0.8},{"x":15.87,"y":0.78},{"x":15.94,"y":0.74},{"x":16.03,"y":0.7},{"x":16.1,"y":0.74},{"x":16.17,"y":0.68},{"x":16.26,"y":0.76},{"x":16.33,"y":0.68},{"x":16.4,"y":0.7},{"x":16.5,"y":0.72},{"x":16.57,"y":0.63},{"x":16.64,"y":0.63},{"x":16.73,"y":0.66},{"x":16.8,"y":0.7},{"x":16.87,"y":0.7},{"x":16.96,"y":0.8},{"x":17.03,"y":0.89},{"x":17.1,"y":0.87},{"x":17.2,"y":0.89},{"x":17.27,"y":0.72},{"x":17.34,"y":0.74},{"x":17.43,"y":0.7},{"x":17.5,"y":0.72},{"x":17.57,"y":0.66},{"x":17.66,"y":0.7},{"x":17.73,"y":0.82},{"x":17.8,"y":0.85},{"x":17.9,"y":0.78},{"x":17.97,"y":0.74},{"x":18.04,"y":0.89},{"x":18.13,"y":0.97},{"x":18.2,"y":0.99},{"x":18.27,"y":1.04},{"x":18.36,"y":1.06},{"x":18.43,"y":1.02},{"x":18.5,"y":1.07},{"x":18.6,"y":0.95},{"x":18.67,"y":1.02},{"x":18.73,"y":0.87},{"x":18.78,"y":1.07},{"x":18.85,"y":1.04},{"x":18.95,"y":0.93},{"x":18.97,"y":0.99},{"x":19.06,"y":1.04},{"x":19.13,"y":0.99},{"x":19.2,"y":1.06},{"x":19.3,"y":0.93},{"x":19.32,"y":0.87},{"x":19.37,"y":1.02},{"x":19.44,"y":1.1},{"x":19.53,"y":0.99},{"x":19.6,"y":0.95},{"x":19.67,"y":0.91},{"x":19.72,"y":0.76},{"x":19.76,"y":0.84},{"x":19.83,"y":0.87},{"x":19.9,"y":0.89},{"x":20.0,"y":0.87},{"x":20.07,"y":0.97},{"x":20.14,"y":0.74},{"x":20.23,"y":0.87},{"x":20.3,"y":0.91},{"x":20.37,"y":0.82},{"x":20.46,"y":0.8},{"x":20.53,"y":0.84},{"x":20.6,"y":0.8},{"x":20.7,"y":0.78},{"x":20.77,"y":0.72},{"x":20.84,"y":0.76},{"x":20.93,"y":0.8},{"x":21.0,"y":0.82},{"x":21.07,"y":0.87},{"x":21.16,"y":0.99},{"x":21.23,"y":0.97},{"x":21.3,"y":0.93},{"x":21.4,"y":0.87},{"x":21.47,"y":0.93},{"x":21.51,"y":1.18},{"x":21.58,"y":1.14},{"x":21.65,"y":1.22},{"x":21.75,"y":1.22},{"x":21.77,"y":1.24},{"x":21.86,"y":0.95},{"x":21.93,"y":0.87},{"x":22.0,"y":0.7},{"x":22.1,"y":0.76},{"x":22.17,"y":0.95},{"x":22.24,"y":0.87},{"x":22.33,"y":0.99},{"x":22.4,"y":0.89},{"x":22.47,"y":0.97},{"x":22.56,"y":0.78},{"x":22.63,"y":0.76},{"x":22.7,"y":0.74},{"x":22.8,"y":0.7},{"x":22.87,"y":0.74},{"x":22.94,"y":0.57},{"x":23.03,"y":0.57},{"x":23.05,"y":0.51},{"x":23.1,"y":0.66},{"x":23.17,"y":0.87},{"x":23.26,"y":0.99},{"x":23.33,"y":0.95},{"x":23.4,"y":1.04},{"x":23.5,"y":1.18},{"x":23.57,"y":1.22},{"x":23.63,"y":1.16},{"x":23.68,"y":0.97},{"x":23.75,"y":0.93},{"x":23.85,"y":0.87},{"x":23.92,"y":0.8},{"x":23.96,"y":0.72},{"x":24.03,"y":1.05},{"x":24.1,"y":0.99},{"x":24.2,"y":0.87},{"x":24.27,"y":0.72},{"x":24.34,"y":0.7},{"x":24.38,"y":0.97},{"x":24.45,"y":0.97},{"x":24.55,"y":0.87},{"x":24.62,"y":0.8},{"x":24.69,"y":0.66},{"x":24.73,"y":0.64},{"x":24.8,"y":0.7},{"x":24.9,"y":0.72},{"x":24.97,"y":0.74},{"x":25.04,"y":0.78},{"x":25.13,"y":0.8},{"x":25.2,"y":0.85},{"x":25.27,"y":0.83},{"x":25.36,"y":0.83},{"x":25.43,"y":0.66},{"x":25.48,"y":0.61},{"x":25.55,"y":0.7},{"x":25.62,"y":0.8},{"x":25.71,"y":0.89},{"x":25.83,"y":0.87},{"x":25.94,"y":0.87},{"x":26.02,"y":0.74},{"x":26.09,"y":0.93},{"x":26.18,"y":1.01},{"x":26.25,"y":1.12},{"x":26.3,"y":1.07},{"x":26.32,"y":0.95},{"x":26.37,"y":0.66},{"x":26.44,"y":0.74},{"x":26.53,"y":0.78},{"x":26.6,"y":0.7},{"x":26.65,"y":0.6},{"x":26.67,"y":0.66},{"x":26.76,"y":0.8},{"x":26.83,"y":0.85},{"x":26.9,"y":0.87},{"x":27.0,"y":0.85},{"x":27.07,"y":0.87},{"x":27.14,"y":0.83},{"x":27.18,"y":0.66},{"x":27.25,"y":0.7},{"x":27.35,"y":0.64},{"x":27.42,"y":0.61},{"x":27.49,"y":0.51},{"x":27.53,"y":0.74},{"x":27.58,"y":0.87},{"x":27.65,"y":0.89},{"x":27.7,"y":0.93},{"x":27.72,"y":1.01},{"x":27.81,"y":1.01},{"x":27.84,"y":0.87},{"x":27.88,"y":0.76},{"x":27.95,"y":0.84},{"x":28.04,"y":0.82},{"x":28.12,"y":0.78},{"x":28.19,"y":0.66},{"x":28.28,"y":0.64},{"x":28.35,"y":0.6},{"x":28.4,"y":0.51},{"x":28.42,"y":0.72},{"x":28.47,"y":0.78},{"x":28.51,"y":0.8},{"x":28.58,"y":0.8},{"x":28.63,"y":0.57},{"x":28.65,"y":0.49},{"x":28.7,"y":0.47},{"x":28.75,"y":0.45}
],
"arena8": [
{"x":0,"y":0.61,"s":1},{"x":0.05,"y":0.51,"s":1},{"x":0.12,"y":0.49,"s":1},{"x":0.19,"y":0.53,"s":1},{"x":0.28,"y":0.51,"s":1},{"x":0.35,"y":0.55,"s":1},{"x":0.4,"y":0.61,"s":1},{"x":0.47,"y":0.62,"s":1},{"x":0.54,"y":0.59,"s":1},{"x":0.58,"y":0.61,"s":1},{"x":0.63,"y":0.57,"s":1},{"x":0.65,"y":0.13,"s":1},{"x":0.75,"y":0.24,"s":1},{"x":0.82,"y":0.34,"s":1},{"x":0.86,"y":0.36,"s":1},{"x":0.89,"y":0.24,"s":1},{"x":0.98,"y":0.3,"s":1},{"x":1.05,"y":0.24,"s":1},{"x":1.12,"y":0.32,"s":1},{"x":1.21,"y":0.26,"s":1},{"x":1.28,"y":0.32,"s":1},{"x":1.35,"y":0.24,"s":1},{"x":1.4,"y":0.3,"s":1},{"x":1.47,"y":0.24,"s":1},{"x":1.56,"y":0.3,"s":1},{"x":1.63,"y":0.22,"s":1},{"x":1.7,"y":0.24,"s":1},{"x":1.8,"y":0.2,"s":1},{"x":1.87,"y":0.24,"s":1},{"x":1.94,"y":0.22,"s":1},{"x":2.03,"y":0.19,"s":1},{"x":2.1,"y":0.17,"s":1},{"x":2.17,"y":0.19,"s":1},{"x":2.26,"y":0.16,"s":1},{"x":2.33,"y":0.17,"s":1},{"x":2.4,"y":0.11,"s":1},{"x":2.45,"y":0.03,"s":1},{"x":2.52,"y":0.05,"s":1},{"x":2.61,"y":0.16,"s":1},{"x":2.64,"y":0.24,"s":1},{"x":2.68,"y":0.53,"s":1},{"x":2.73,"y":0.57,"s":1},{"x":2.8,"y":0.55,"s":1},{"x":2.87,"y":0.51,"s":1},{"x":2.92,"y":0.57,"s":1},{"x":2.96,"y":0.53,"s":1},{"x":3.03,"y":0.45,"s":1},{"x":3.1,"y":0.49,"s":1},{"x":3.2,"y":0.36,"s":1},{"x":3.27,"y":0.41,"s":1},{"x":3.34,"y":0.32,"s":1},{"x":3.43,"y":0.34,"s":1},{"x":3.5,"y":0.32,"s":1},{"x":3.55,"y":0.66,"s":1},{"x":3.69,"y":0.66,"s":1},{"x":3.73,"y":0.28,"s":1},{"x":3.8,"y":0.26,"s":1},{"x":3.9,"y":0.28,"s":1},{"x":3.97,"y":0.24,"s":1},{"x":4.04,"y":0.26,"s":1},{"x":4.13,"y":0.22,"s":1},{"x":4.2,"y":0.2,"s":1},{"x":4.27,"y":0.07,"s":1},{"x":4.36,"y":0.03,"s":1},{"x":4.43,"y":0.03,"s":1},{"x":4.5,"y":0.05,"s":1},{"x":4.6,"y":0.07,"s":1},{"x":4.67,"y":0.16,"s":1},{"x":4.74,"y":0.22,"s":1},{"x":4.83,"y":0.45,"s":1},{"x":4.9,"y":0.41,"s":1},{"x":4.97,"y":0.41,"s":1},{"x":5.06,"y":0.38,"s":1},{"x":5.13,"y":0.38,"s":1},{"x":5.2,"y":0.36,"s":1},{"x":5.3,"y":0.38,"s":1},{"x":5.37,"y":0.32,"s":1},{"x":5.44,"y":0.26,"s":1},{"x":5.53,"y":0.19,"s":1},{"x":5.6,"y":0.15,"s":1},{"x":5.67,"y":0.13,"s":1},{"x":5.76,"y":0.11,"s":1},{"x":5.83,"y":0.13,"s":1},{"x":5.9,"y":0.09,"s":1},{"x":6.0,"y":0.07,"s":1},{"x":6.07,"y":0.11,"s":1},{"x":6.14,"y":0.16,"s":1},{"x":6.23,"y":0.2,"s":1},{"x":6.3,"y":0.24,"s":1},{"x":6.37,"y":0.26,"s":1},{"x":6.46,"y":0.26,"s":1},{"x":6.53,"y":0.28,"s":1},{"x":6.6,"y":0.3,"s":1},{"x":6.7,"y":0.32,"s":1},{"x":6.77,"y":0.34,"s":1},{"x":6.84,"y":0.36,"s":1},{"x":6.93,"y":0.4,"s":1},{"x":7.0,"y":0.49,"s":1},{"x":7.07,"y":0.45,"s":1},{"x":7.16,"y":0.41,"s":1},{"x":7.23,"y":0.43,"s":1},{"x":7.3,"y":0.36,"s":1},{"x":7.4,"y":0.38,"s":1},{"x":7.47,"y":0.41,"s":1},{"x":7.54,"y":0.36,"s":1},{"x":7.63,"y":0.43,"s":1},{"x":7.7,"y":0.41,"s":1},{"x":7.77,"y":0.3,"s":1},{"x":7.86,"y":0.38,"s":1},{"x":7.93,"y":0.32,"s":1},{"x":8.0,"y":0.36,"s":1},{"x":8.1,"y":0.19,"s":1},{"x":8.17,"y":0.24,"s":1},{"x":8.21,"y":0.32,"s":1},{"x":8.24,"y":0.24,"s":1},{"x":8.33,"y":0.22,"s":1},
{"x":8.63,"y":0.09,"s":2},{"x":8.7,"y":0.13,"s":2},{"x":8.8,"y":0.11,"s":2},{"x":8.87,"y":0.15,"s":2},{"x":8.91,"y":0.07,"s":2},{"x":8.94,"y":0.03,"s":2},{"x":9.03,"y":0.2,"s":2},{"x":9.1,"y":0.32,"s":2},{"x":9.17,"y":0.49,"s":2},{"x":9.26,"y":0.41,"s":2},{"x":9.33,"y":0.15,"s":2},{"x":9.4,"y":0.32,"s":2},{"x":9.5,"y":0.26,"s":2},{"x":9.57,"y":0.32,"s":2},{"x":9.64,"y":0.36,"s":2},{"x":9.73,"y":0.3,"s":2},{"x":9.8,"y":0.41,"s":2},{"x":9.87,"y":0.38,"s":2},{"x":9.96,"y":0.45,"s":2},{"x":10.03,"y":0.53,"s":2},{"x":10.1,"y":0.51,"s":2},{"x":10.2,"y":0.53,"s":2},{"x":10.27,"y":0.6,"s":2},{"x":10.34,"y":0.57,"s":2},{"x":10.43,"y":0.6,"s":2},{"x":10.5,"y":0.64,"s":2},{"x":10.57,"y":0.6,"s":2},{"x":10.66,"y":0.66,"s":2},{"x":10.73,"y":0.68,"s":2},{"x":10.8,"y":0.55,"s":2},{"x":10.9,"y":0.41,"s":2},{"x":10.97,"y":0.38,"s":2},{"x":11.04,"y":0.45,"s":2},{"x":11.13,"y":0.53,"s":2},{"x":11.2,"y":0.6,"s":2},{"x":11.27,"y":0.62,"s":2},{"x":11.36,"y":0.55,"s":2},{"x":11.43,"y":0.53,"s":2},{"x":11.5,"y":0.51,"s":2},{"x":11.6,"y":0.49,"s":2},{"x":11.67,"y":0.45,"s":2},{"x":11.74,"y":0.47,"s":2},{"x":11.83,"y":0.43,"s":2},{"x":11.9,"y":0.49,"s":2},{"x":11.97,"y":0.38,"s":2},{"x":12.06,"y":0.45,"s":2},{"x":12.13,"y":0.41,"s":2},{"x":12.2,"y":0.43,"s":2},{"x":12.3,"y":0.26,"s":2},{"x":12.32,"y":0.22,"s":2},{"x":12.37,"y":0.36,"s":2},{"x":12.44,"y":0.41,"s":2},{"x":12.53,"y":0.41,"s":2},{"x":12.6,"y":0.43,"s":2},{"x":12.67,"y":0.45,"s":2},{"x":12.76,"y":0.36,"s":2},{"x":12.83,"y":0.38,"s":2},{"x":12.9,"y":0.3,"s":2},{"x":13.0,"y":0.34,"s":2},{"x":13.07,"y":0.45,"s":2},{"x":13.14,"y":0.49,"s":2},{"x":13.23,"y":0.45,"s":2},{"x":13.3,"y":0.47,"s":2},{"x":13.37,"y":0.49,"s":2},{"x":13.46,"y":0.47,"s":2},{"x":13.53,"y":0.51,"s":2},{"x":13.6,"y":0.57,"s":2},{"x":13.65,"y":0.61,"s":2},{"x":13.7,"y":0.57,"s":2},{"x":13.77,"y":0.49,"s":2},{"x":13.84,"y":0.45,"s":2},{"x":13.93,"y":0.38,"s":2},{"x":14.0,"y":0.26,"s":2},{"x":14.07,"y":0.16,"s":2},{"x":14.16,"y":0.05,"s":2},{"x":14.23,"y":0.11,"s":2},{"x":14.3,"y":0.03,"s":2},{"x":14.4,"y":0.07,"s":2},{"x":14.47,"y":0.2,"s":2},{"x":14.54,"y":0.26,"s":2},{"x":14.63,"y":0.3,"s":2},{"x":14.7,"y":0.28,"s":2},{"x":14.77,"y":0.3,"s":2},{"x":14.86,"y":0.34,"s":2},{"x":14.93,"y":0.32,"s":2},{"x":15.0,"y":0.34,"s":2},{"x":15.1,"y":0.41,"s":2},{"x":15.17,"y":0.28,"s":2},{"x":15.24,"y":0.24,"s":2},{"x":15.33,"y":0.16,"s":2},{"x":15.4,"y":0.22,"s":2},{"x":15.47,"y":0.24,"s":2},{"x":15.56,"y":0.32,"s":2},{"x":15.63,"y":0.36,"s":2},{"x":15.7,"y":0.38,"s":2},{"x":15.8,"y":0.45,"s":2},{"x":15.87,"y":0.49,"s":2},{"x":15.94,"y":0.43,"s":2},{"x":16.03,"y":0.36,"s":2},{"x":16.1,"y":0.34,"s":2},{"x":16.17,"y":0.34,"s":2},{"x":16.26,"y":0.34,"s":2},{"x":16.33,"y":0.32,"s":2},{"x":16.4,"y":0.3,"s":2},{"x":16.5,"y":0.3,"s":2},{"x":16.57,"y":0.28,"s":2},{"x":16.64,"y":0.26,"s":2},{"x":16.73,"y":0.28,"s":2},{"x":16.8,"y":0.28,"s":2},{"x":16.87,"y":0.3,"s":2},{"x":16.96,"y":0.38,"s":2},{"x":17.03,"y":0.41,"s":2},{"x":17.1,"y":0.45,"s":2},{"x":17.2,"y":0.53,"s":2},{"x":17.27,"y":0.57,"s":2},{"x":17.34,"y":0.53,"s":2},{"x":17.43,"y":0.41,"s":2},{"x":17.5,"y":0.38,"s":2},{"x":17.57,"y":0.28,"s":2},{"x":17.66,"y":0.22,"s":2},{"x":17.73,"y":0.19,"s":2},{"x":17.8,"y":0.17,"s":2},{"x":17.9,"y":0.13,"s":2},
{"x":18.15,"y":0.05,"s":3},{"x":18.25,"y":0.05,"s":3},
{"x":18.5,"y":0.0,"s":4},{"x":18.55,"y":0.26,"s":4},{"x":18.67,"y":0.28,"s":4},{"x":18.73,"y":0.32,"s":4},{"x":18.83,"y":0.36,"s":4},{"x":18.9,"y":0.43,"s":4},{"x":18.97,"y":0.47,"s":4},{"x":19.06,"y":0.49,"s":4},{"x":19.13,"y":0.49,"s":4},{"x":19.2,"y":0.53,"s":4},{"x":19.3,"y":0.55,"s":4},{"x":19.37,"y":0.6,"s":4},
{"x":19.6,"y":0.19,"s":5},{"x":19.67,"y":0.32,"s":5},{"x":19.76,"y":0.26,"s":5},{"x":19.83,"y":0.09,"s":5},{"x":19.88,"y":0.28,"s":5},{"x":19.95,"y":0.3,"s":5},{"x":20.02,"y":0.26,"s":5},{"x":20.11,"y":0.3,"s":5},{"x":20.18,"y":0.26,"s":5},{"x":20.25,"y":0.32,"s":5},{"x":20.35,"y":0.28,"s":5},{"x":20.42,"y":0.34,"s":5},{"x":20.49,"y":0.32,"s":5},{"x":20.58,"y":0.38,"s":5},{"x":20.65,"y":0.36,"s":5},{"x":20.72,"y":0.41,"s":5},{"x":20.81,"y":0.61,"s":5},{"x":20.84,"y":0.7,"s":5},{"x":20.88,"y":0.66,"s":5},{"x":20.95,"y":0.76,"s":5},{"x":21.05,"y":0.7,"s":5},{"x":21.12,"y":0.74,"s":5},{"x":21.19,"y":0.68,"s":5},{"x":21.28,"y":0.74,"s":5},{"x":21.35,"y":0.7,"s":5},{"x":21.42,"y":0.74,"s":5},{"x":21.51,"y":0.72,"s":5},{"x":21.58,"y":0.76,"s":5},{"x":21.65,"y":0.7,"s":5},{"x":21.75,"y":0.61,"s":5},{"x":21.82,"y":0.6,"s":5},{"x":21.89,"y":0.55,"s":5},{"x":21.98,"y":0.49,"s":5},{"x":22.05,"y":0.57,"s":5},{"x":22.12,"y":0.51,"s":5},{"x":22.21,"y":0.36,"s":5},{"x":22.28,"y":0.32,"s":5},{"x":22.35,"y":0.28,"s":5},{"x":22.45,"y":0.26,"s":5},{"x":22.52,"y":0.2,"s":5},{"x":22.59,"y":0.18,"s":5},{"x":22.68,"y":0.28,"s":5},{"x":22.75,"y":0.3,"s":5},{"x":22.82,"y":0.49,"s":5},{"x":22.91,"y":0.53,"s":5},{"x":22.98,"y":0.49,"s":5},{"x":23.05,"y":0.38,"s":5},{"x":23.15,"y":0.45,"s":5},{"x":23.21,"y":0.49,"s":5},{"x":23.28,"y":0.41,"s":5},{"x":23.38,"y":0.36,"s":5},{"x":23.45,"y":0.24,"s":5},{"x":23.52,"y":0.32,"s":5},{"x":23.61,"y":0.36,"s":5},{"x":23.68,"y":0.41,"s":5},{"x":23.75,"y":0.43,"s":5},{"x":23.85,"y":0.45,"s":5},{"x":23.92,"y":0.47,"s":5},{"x":23.98,"y":0.51,"s":5},{"x":24.08,"y":0.43,"s":5},{"x":24.15,"y":0.38,"s":5},{"x":24.22,"y":0.36,"s":5},{"x":24.31,"y":0.41,"s":5},{"x":24.38,"y":0.45,"s":5},{"x":24.45,"y":0.43,"s":5},{"x":24.55,"y":0.45,"s":5},{"x":24.62,"y":0.43,"s":5},{"x":24.69,"y":0.41,"s":5},{"x":24.78,"y":0.43,"s":5},{"x":24.85,"y":0.41,"s":5},{"x":24.92,"y":0.43,"s":5},{"x":25.01,"y":0.41,"s":5},{"x":25.08,"y":0.38,"s":5},{"x":25.15,"y":0.41,"s":5},{"x":25.25,"y":0.26,"s":5},{"x":25.32,"y":0.13,"s":5},{"x":25.39,"y":0.24,"s":5},{"x":25.48,"y":0.26,"s":5},{"x":25.55,"y":0.3,"s":5},{"x":25.62,"y":0.32,"s":5},{"x":25.71,"y":0.36,"s":5},{"x":25.78,"y":0.41,"s":5},{"x":25.85,"y":0.43,"s":5},{"x":25.94,"y":0.49,"s":5},{"x":26.02,"y":0.45,"s":5},{"x":26.09,"y":0.51,"s":5},{"x":26.18,"y":0.55,"s":5},{"x":26.25,"y":0.53,"s":5},{"x":26.32,"y":0.57,"s":5},{"x":26.41,"y":0.57,"s":5},{"x":26.48,"y":0.59,"s":5},{"x":26.55,"y":0.66,"s":5},{"x":26.6,"y":0.62,"s":5},{"x":26.67,"y":0.53,"s":5},{"x":26.76,"y":0.41,"s":5},{"x":26.83,"y":0.36,"s":5},{"x":26.9,"y":0.32,"s":5},{"x":27.0,"y":0.36,"s":5},{"x":27.07,"y":0.41,"s":5},{"x":27.14,"y":0.45,"s":5},{"x":27.23,"y":0.45,"s":5},{"x":27.3,"y":0.41,"s":5},{"x":27.37,"y":0.47,"s":5},{"x":27.46,"y":0.43,"s":5},{"x":27.53,"y":0.36,"s":5},{"x":27.6,"y":0.41,"s":5},{"x":27.7,"y":0.36,"s":5},{"x":27.77,"y":0.32,"s":5},{"x":27.84,"y":0.24,"s":5},{"x":27.93,"y":0.22,"s":5},{"x":28.0,"y":0.32,"s":5},{"x":28.07,"y":0.36,"s":5},{"x":28.16,"y":0.41,"s":5},{"x":28.23,"y":0.49,"s":5},{"x":28.3,"y":0.51,"s":5},{"x":28.4,"y":0.51,"s":5},{"x":28.47,"y":0.53,"s":5},{"x":28.54,"y":0.57,"s":5},{"x":28.63,"y":0.66,"s":5},{"x":28.75,"y":0.66,"s":5},{"x":28.77,"y":0.28,"s":5},{"x":28.86,"y":0.26,"s":5},{"x":28.93,"y":0.24,"s":5},{"x":29.0,"y":0.26,"s":5},{"x":29.1,"y":0.24,"s":5},{"x":29.17,"y":0.24,"s":5},{"x":29.24,"y":0.22,"s":5},{"x":29.33,"y":0.26,"s":5},{"x":29.35,"y":0.3,"s":5},{"x":29.4,"y":0.16,"s":5},{"x":29.45,"y":0.07,"s":5},{"x":29.47,"y":0.03,"s":5}
]
},
"layer": [
  {"data": {"name": "arena5"}, "mark": {"type": "line", "strokeWidth": 1.3, "interpolate": "step-after"},
   "encoding": {
     "x": {"field": "x", "type": "quantitative", "scale": {"domain": [0, 35], "nice": false, "zero": false},
           "axis": {"orient": "bottom", "title": "Distancia[cm]", "values": [0,5,10,15,20,25,30,35], "ticks": false, "labelFlush": false, "labelOverlap": false, "labelPadding": 7, "titlePadding": 4}},
     "y": {"field": "y", "type": "quantitative", "scale": {"domain": [0, 3], "nice": false},
           "axis": {"orient": "left", "title": "Profundidad percolación [cm]", "values": [0,0.5,1,1.5,2,2.5,3], "format": "~g", "ticks": false, "labelPadding": 8, "titlePadding": 10}},
     "order": {"value": null},
     "color": {"datum": "Arena 5", "type": "nominal",
      "scale": {"domain": ["Arena 5","Arena 6","Arena 7","Arena 8"], "range": ["#1c1cc4","#d01818","#000000","#28d228"]},
      "legend": {"orient": "none", "legendX": 1335, "legendY": 10, "title": null, "symbolType": "stroke", "symbolSize": 3600, "symbolStrokeWidth": 1.3, "clipHeight": 18, "rowPadding": 6.5, "padding": 8, "symbolOffset": 4, "labelOffset": 3, "labelFontSize": 19, "labelFont": "Liberation Sans", "labelColor": "#1a1a1a", "strokeColor": "#000", "fillColor": "#fff", "labelLimit": 300}}}},
  {"data": {"name": "arena6"}, "mark": {"type": "line", "strokeWidth": 1.3, "interpolate": "step-after"},
   "encoding": {
     "x": {"field": "x", "type": "quantitative",
           "axis": {"orient": "top", "offset": -478, "title": null, "values": [0,5,10,15,20,25,30,35], "labels": false, "domain": false, "ticks": true, "tickSize": 16, "tickColor": "#000", "tickWidth": 1.5}},
     "y": {"field": "y", "type": "quantitative",
           "axis": {"orient": "right", "offset": -1500, "title": null, "values": [0,0.5,1,1.5,2,2.5,3], "labels": false, "domain": false, "ticks": true, "tickSize": 16, "tickColor": "#000", "tickWidth": 1.5}},
     "order": {"value": null},
     "color": {"datum": "Arena 6", "type": "nominal"}, "detail": {"field": "s", "type": "nominal"}}},
  {"data": {"name": "arena7"}, "mark": {"type": "line", "strokeWidth": 1.4, "interpolate": "step-after"},
   "encoding": {
     "x": {"field": "x", "type": "quantitative", "axis": null},
     "y": {"field": "y", "type": "quantitative", "axis": null},
     "order": {"value": null},
     "color": {"datum": "Arena 7", "type": "nominal"}}},
  {"data": {"name": "arena8"}, "mark": {"type": "line", "strokeWidth": 1.3, "interpolate": "step-after"},
   "encoding": {
     "x": {"field": "x", "type": "quantitative", "axis": null},
     "y": {"field": "y", "type": "quantitative", "axis": null},
     "order": {"value": null},
     "color": {"datum": "Arena 8", "type": "nominal"}, "detail": {"field": "s", "type": "nominal"}}}
]
}
